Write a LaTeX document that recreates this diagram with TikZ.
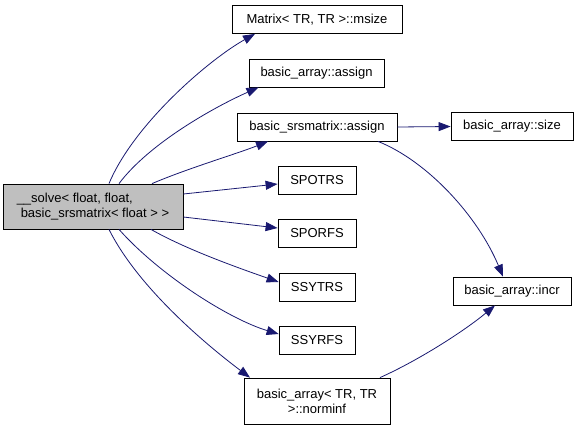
\documentclass[tikz,border=0pt]{standalone}
\usepackage{fontspec}
\setmainfont{Liberation Sans}
\usetikzlibrary{arrows.meta,positioning}
\definecolor{edgeblue}{HTML}{191970}
\definecolor{maingray}{HTML}{BFBFBF}

\begin{document}
\begin{tikzpicture}[x=1pt,y=-1pt,
  font=\fontsize{13}{15}\selectfont,
  fnbox/.style={draw=black, line width=0.8pt, inner sep=0pt, minimum height=28pt, align=center},
  callarrow/.style={draw=edgeblue, line width=0.8pt, -{Triangle[length=12pt,width=9pt]}}]
  \useasboundingbox (0,0) rectangle (579,429);
  % functions
  \node[fnbox, fill=maingray, minimum width=180pt, minimum height=45pt, align=left] (main) at (93,206.5)
    {\_\_solve< float, float,\\ \hspace*{4pt}basic\_srsmatrix< float > >};
  \node[fnbox, minimum width=170pt] (msize) at (317,19.5) {Matrix< TR, TR >::msize};
  \node[fnbox, minimum width=135pt] (baassign) at (316.5,73) {basic\_array::assign};
  \node[fnbox, minimum width=160pt] (srsassign) at (317,127) {basic\_srsmatrix::assign};
  \node[fnbox, minimum width=122pt] (basize) at (512,126.5) {basic\_array::size};
  \node[fnbox, minimum width=118pt] (baincr) at (512,291) {basic\_array::incr};
  \node[fnbox, minimum width=78pt] (spotrs) at (317,180) {SPOTRS};
  \node[fnbox, minimum width=78pt] (sporfs) at (317,233) {SPORFS};
  \node[fnbox, minimum width=76pt] (ssytrs) at (317,287) {SSYTRS};
  \node[fnbox, minimum width=76pt] (ssyrfs) at (317,340) {SSYRFS};
  \node[fnbox, minimum width=146pt, minimum height=46pt] (norminf) at (317,401)
    {basic\_array< TR, TR\\ >::norminf};
  % calls
  \draw[callarrow] ([xshift=16]main.north) .. controls +(25,-60) and +(-45,25) .. ([xshift=-62]msize.south);
  \draw[callarrow] ([xshift=26]main.north) .. controls +(30,-40) and +(-45,20) .. ([xshift=-58]baassign.south);
  \draw[callarrow] ([xshift=59]main.north) .. controls +(35,-15) and +(-30,12) .. ([xshift=-49]srsassign.south);
  \draw[callarrow] ([yshift=12.5]main.east) -- ([yshift=-4]spotrs.west);
  \draw[callarrow] ([yshift=-10.5]main.east) -- ([yshift=5]sporfs.west);
  \draw[callarrow] ([xshift=58]main.south) .. controls +(35,20) and +(-40,-14) .. ([yshift=5]ssytrs.west);
  \draw[callarrow] ([xshift=26]main.south) .. controls +(40,45) and +(-50,-15) .. ([yshift=6]ssyrfs.west);
  \draw[callarrow] ([xshift=16]main.south) .. controls +(30,60) and +(-40,-30) .. ([xshift=-67]norminf.north);
  \draw[callarrow] (srsassign.east) -- (basize.west);
  \draw[callarrow] ([xshift=61]srsassign.south) .. controls +(50,20) and +(-25,-60) .. ([xshift=-9]baincr.north);
  \draw[callarrow] ([xshift=63]norminf.north) .. controls +(40,-18) and +(-30,25) .. ([xshift=-17]baincr.south);
\end{tikzpicture}
\end{document}
